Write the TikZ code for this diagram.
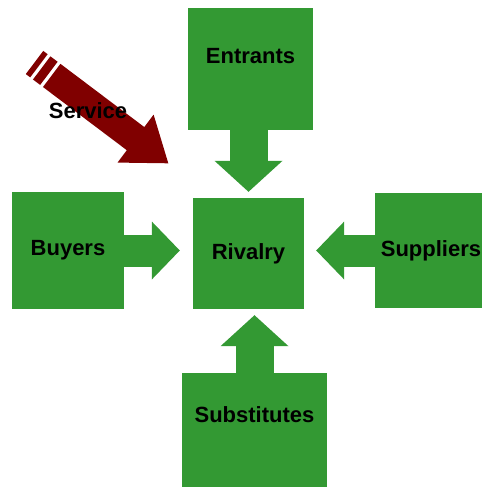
\documentclass[tikz,border=0pt]{standalone}
\usepackage{fontspec}
\setmainfont{Liberation Sans}
\usetikzlibrary{arrows.meta}
\definecolor{boxgreen}{RGB}{51,153,51}
\definecolor{servicered}{RGB}{128,0,0}
\begin{document}
\begin{tikzpicture}[x=1pt,y=1pt,
	force/.style={fill=boxgreen,inner sep=0pt,font=\bfseries\fontsize{22}{25}\selectfont},
	forcetext/.style={font=\bfseries\fontsize{22}{25}\selectfont},
	flow/.style={boxgreen,line width=32pt,-{Triangle[length=28pt,width=58pt,line width=0pt 0 0]}},
	vflow/.style={boxgreen,line width=38pt,-{Triangle[length=31pt,width=68pt,line width=0pt 0 0]}}]
		\useasboundingbox (0,0) rectangle (483,-487);
		\clip (0,0) rectangle (483,-487);
		%the five forces
		\node[force,minimum width=111pt,minimum height=111pt] (rivalry) at (248.5,-253.5) {Rivalry};
		\node[force,minimum width=125pt,minimum height=122pt,label={[forcetext,yshift=13pt]center:Entrants}] (entrants) at (250.5,-69) {};
		\node[force,minimum width=112pt,minimum height=117pt] (buyers) at (68,-250.5) {Buyers};
		\node[force,minimum width=107pt,minimum height=115pt] (suppliers) at (428.5,-250.5) {\hspace*{5pt}Suppliers};
		\node[force,minimum width=145pt,minimum height=118pt,label={[forcetext,yshift=17pt]center:Substitutes}] (substitutes) at (254.5,-432) {};
		%block arrows
		\draw[flow] (buyers) -- ([xshift=-13pt]buyers -| rivalry.west);
		\draw[flow] (suppliers) -- ([xshift=12pt]suppliers -| rivalry.east);
		\draw[vflow] (rivalry |- entrants.south) -- ([yshift=6pt]rivalry.north);
		\draw[vflow] (substitutes) -- ([yshift=-6pt]substitutes |- rivalry.south);
		%striped arrow
		\begin{scope}[shift={(168.3,-163.3)},rotate=-37,servicered]
		\fill (0,0) -- (-41,30) -- (-41,14.5) -- (-146,14.5) -- (-146,-14.5) -- (-41,-14.5) -- (-41,-30) -- cycle;
		\fill (-149.5,-14.5) rectangle (-158.5,14.5);
		\fill (-162,-14.5) rectangle (-167.5,14.5);
		\end{scope}
		\node[forcetext] (service) at (88,-111) {Service};
		\end{tikzpicture}
\end{document}
